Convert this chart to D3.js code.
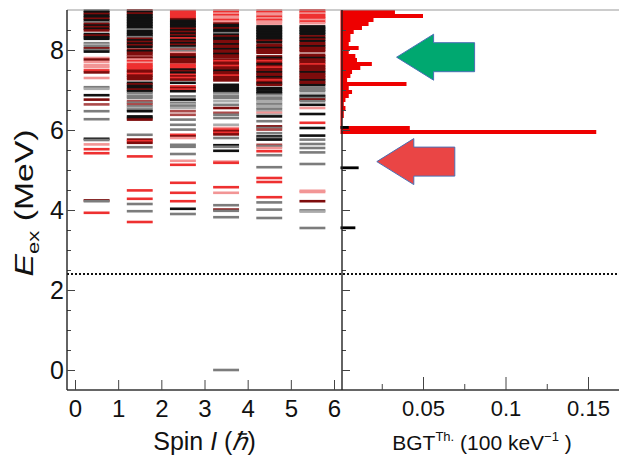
<!DOCTYPE html>
<html>
<head>
<meta charset="utf-8">
<script src="https://cdn.jsdelivr.net/npm/d3@7"></script>
<style>
  body { margin: 0; background: #fff; }
  svg { display: block; }
  text { font-family: "Liberation Sans", Arial, Helvetica, sans-serif; fill: #111; }
</style>
</head>
<body>
<svg id="chart" width="619" height="461"></svg>
<script>
// ---- Level scheme: excitation energies (MeV) per spin, with a colour class ----
// classes: K black, G grey, g light grey, D dark red, M muted red, R red, P pale red
const spins = [0, 1, 2, 3, 4, 5];

const levels0 = [
  [8.98,'K'],[8.94,'K'],[8.90,'D'],[8.86,'K'],[8.82,'K'],[8.78,'D'],[8.74,'K'],[8.69,'G'],[8.65,'D'],
  [8.61,'K'],[8.57,'D'],[8.53,'K'],[8.49,'D'],[8.40,'K'],[8.36,'D'],[8.32,'K'],[8.28,'K'],[8.17,'G'],
  [8.13,'g'],[8.09,'G'],[8.04,'D'],[8.00,'G'],[7.96,'K'],[7.80,'P'],[7.76,'D'],[7.70,'P'],[7.62,'P'],
  [7.57,'P'],[7.49,'R'],[7.44,'D'],[7.30,'P'],[7.07,'G'],[7.03,'g'],[6.87,'K'],[6.76,'D'],[6.64,'M'],
  [6.47,'G'],[6.27,'G'],[5.78,'K'],[5.75,'G'],[5.64,'P'],[5.52,'R'],[5.42,'R'],[4.24,'D'],[4.22,'G'],
  [3.93,'R']
];

const levels1 = [
  [8.99,'D'],[8.95,'K'],[8.91,'D'],[8.87,'K'],[8.83,'K'],[8.79,'K'],[8.75,'K'],[8.71,'K'],[8.67,'K'],
  [8.63,'K'],[8.59,'K'],[8.55,'K'],[8.51,'G'],[8.47,'K'],[8.43,'K'],[8.39,'K'],[8.35,'K'],[8.32,'G'],
  [8.28,'D'],[8.24,'K'],[8.20,'D'],[8.16,'K'],[8.12,'D'],[8.08,'K'],[8.01,'D'],[7.97,'K'],[7.93,'D'],
  [7.88,'D'],[7.84,'M'],[7.80,'D'],[7.76,'P'],[7.72,'R'],[7.68,'P'],[7.64,'R'],[7.60,'R'],[7.56,'R'],
  [7.52,'R'],[7.48,'D'],[7.44,'D'],[7.40,'R'],[7.36,'D'],[7.32,'D'],[7.27,'D'],[7.18,'K'],[7.14,'D'],
  [7.10,'K'],[7.05,'K'],[7.01,'D'],[6.97,'K'],[6.92,'G'],[6.87,'g'],[6.84,'G'],[6.80,'G'],[6.72,'M'],
  [6.68,'G'],[6.64,'M'],[6.59,'G'],[6.55,'g'],[6.51,'G'],[6.47,'K'],[6.34,'K'],[6.30,'K'],[6.26,'D'],
  [5.88,'G'],[5.76,'D'],[5.72,'R'],[5.68,'D'],[5.57,'G'],[5.34,'R'],[4.49,'R'],[4.28,'R'],[4.15,'G'],
  [3.97,'G'],[3.70,'R']
];

const levels2 = [
  [8.97,'R'],[8.93,'R'],[8.89,'R'],[8.85,'R'],[8.81,'R'],[8.77,'D'],[8.73,'K'],[8.69,'K'],[8.65,'K'],
  [8.61,'K'],[8.57,'K'],[8.53,'D'],[8.49,'K'],[8.45,'D'],[8.41,'K'],[8.37,'D'],[8.33,'K'],[8.29,'R'],
  [8.25,'K'],[8.21,'D'],[8.17,'K'],[8.13,'D'],[8.09,'K'],[8.05,'G'],[8.01,'M'],[7.97,'G'],[7.93,'P'],
  [7.89,'D'],[7.85,'D'],[7.81,'K'],[7.77,'D'],[7.73,'D'],[7.69,'D'],[7.63,'R'],[7.59,'R'],[7.55,'R'],
  [7.51,'K'],[7.47,'D'],[7.43,'K'],[7.38,'R'],[7.34,'D'],[7.30,'R'],[7.26,'D'],[7.18,'K'],[7.09,'R'],
  [7.05,'D'],[7.01,'R'],[6.97,'K'],[6.84,'G'],[6.76,'K'],[6.68,'G'],[6.64,'g'],[6.60,'G'],[6.55,'g'],
  [6.47,'M'],[6.38,'M'],[6.26,'G'],[6.13,'G'],[6.01,'G'],[5.88,'R'],[5.84,'D'],[5.80,'P'],[5.63,'G'],
  [5.58,'G'],[5.40,'G'],[5.23,'P'],[5.13,'R'],[4.68,'R'],[4.43,'R'],[4.22,'R'],[4.03,'K'],[3.90,'G']
];

const levels3 = [
  [8.99,'P'],[8.95,'R'],[8.91,'P'],[8.87,'R'],[8.83,'P'],[8.79,'P'],[8.75,'R'],[8.71,'P'],[8.66,'D'],
  [8.62,'K'],[8.58,'K'],[8.54,'D'],[8.50,'K'],[8.46,'K'],[8.42,'G'],[8.38,'K'],[8.34,'D'],[8.30,'K'],
  [8.26,'K'],[8.22,'D'],[8.18,'D'],[8.14,'K'],[8.10,'D'],[8.06,'D'],[8.02,'K'],[7.98,'D'],[7.94,'D'],
  [7.90,'K'],[7.86,'D'],[7.82,'D'],[7.76,'D'],[7.72,'R'],[7.68,'D'],[7.64,'D'],[7.60,'R'],[7.56,'D'],
  [7.52,'D'],[7.48,'K'],[7.44,'D'],[7.40,'D'],[7.36,'R'],[7.32,'D'],[7.28,'D'],[7.24,'D'],[7.13,'K'],
  [7.09,'K'],[7.05,'K'],[7.01,'K'],[6.97,'K'],[6.92,'G'],[6.88,'g'],[6.84,'G'],[6.80,'G'],[6.72,'g'],
  [6.63,'G'],[6.55,'D'],[6.43,'M'],[6.38,'G'],[6.30,'G'],[6.13,'g'],[6.05,'P'],[6.01,'R'],[5.97,'D'],
  [5.93,'R'],[5.89,'D'],[5.80,'G'],[5.62,'K'],[5.58,'G'],[5.48,'K'],[5.21,'P'],[5.18,'R'],[4.57,'R'],
  [4.43,'P'],[4.12,'G'],[4.01,'D'],[3.98,'G'],[3.82,'G'],[0.00,'G']
];

const levels4 = [
  [8.99,'P'],[8.95,'R'],[8.91,'P'],[8.87,'P'],[8.83,'R'],[8.79,'P'],[8.75,'R'],[8.71,'P'],[8.66,'P'],
  [8.59,'K'],[8.55,'K'],[8.51,'K'],[8.47,'K'],[8.43,'K'],[8.39,'K'],[8.35,'K'],[8.31,'K'],[8.27,'K'],
  [8.23,'D'],[8.19,'K'],[8.13,'D'],[8.09,'D'],[8.05,'K'],[8.01,'D'],[7.97,'D'],[7.93,'D'],[7.84,'D'],
  [7.80,'K'],[7.76,'D'],[7.72,'R'],[7.68,'D'],[7.64,'K'],[7.60,'D'],[7.56,'R'],[7.52,'D'],[7.48,'D'],
  [7.44,'K'],[7.40,'D'],[7.36,'D'],[7.32,'K'],[7.28,'D'],[7.24,'R'],[7.20,'D'],[7.16,'K'],[7.13,'D'],
  [7.05,'K'],[7.01,'K'],[6.96,'K'],[6.92,'K'],[6.88,'G'],[6.84,'g'],[6.80,'G'],[6.76,'G'],[6.72,'g'],
  [6.68,'g'],[6.64,'G'],[6.60,'g'],[6.56,'g'],[6.52,'G'],[6.47,'g'],[6.43,'P'],[6.38,'g'],[6.34,'K'],
  [6.22,'G'],[6.09,'D'],[6.05,'G'],[6.01,'M'],[5.92,'G'],[5.84,'K'],[5.80,'G'],[5.76,'K'],[5.63,'M'],
  [5.59,'G'],[5.55,'P'],[5.47,'R'],[5.37,'G'],[5.07,'G'],[4.80,'R'],[4.70,'R'],[4.32,'R'],[4.19,'G'],
  [4.01,'G'],[3.80,'G']
];

const levels5 = [
  [8.99,'R'],[8.95,'R'],[8.91,'P'],[8.87,'R'],[8.83,'R'],[8.79,'R'],[8.75,'P'],[8.71,'R'],[8.67,'P'],
  [8.59,'K'],[8.55,'K'],[8.51,'K'],[8.47,'K'],[8.43,'K'],[8.39,'K'],[8.34,'D'],[8.30,'K'],[8.26,'D'],
  [8.22,'K'],[8.17,'D'],[8.13,'D'],[8.09,'K'],[8.05,'D'],[8.01,'D'],[7.97,'D'],[7.88,'D'],[7.84,'D'],
  [7.80,'K'],[7.76,'D'],[7.72,'D'],[7.68,'D'],[7.64,'R'],[7.60,'D'],[7.56,'D'],[7.52,'D'],[7.48,'D'],
  [7.44,'K'],[7.40,'D'],[7.36,'D'],[7.32,'D'],[7.28,'D'],[7.24,'K'],[7.20,'D'],[7.16,'D'],[7.12,'K'],
  [7.05,'G'],[7.01,'G'],[6.97,'G'],[6.88,'G'],[6.84,'K'],[6.80,'G'],[6.76,'D'],[6.72,'G'],[6.63,'K'],
  [6.55,'P'],[6.40,'K'],[6.18,'R'],[6.05,'K'],[5.86,'K'],[5.76,'G'],[5.65,'G'],[5.55,'G'],[5.44,'G'],
  [5.15,'G'],[4.48,'P'],[4.45,'P'],[4.22,'D'],[3.99,'G'],[3.96,'g'],[3.55,'G']
];

const levelsBySpin = [levels0, levels1, levels2, levels3, levels4, levels5];

// ---- Theoretical B(GT) strength per 100 keV bin (lower bin edge in MeV) ----
const bgtBinLow = [8.9, 8.8, 8.7, 8.6, 8.5, 8.4, 8.3, 8.2, 8.1, 8.0, 7.9, 7.8, 7.7, 7.6, 7.5, 7.4,
                   7.3, 7.2, 7.1, 7.0, 6.9, 6.8, 6.7, 6.6, 6.5, 6.4, 6.3, 6.2, 6.1, 6.0, 5.9];
const bgtRed    = [0.033, 0.050, 0.020, 0.017, 0.013, 0.008, 0.006, 0.006, 0.005, 0.011, 0.005,
                   0.009, 0.010, 0.019, 0.012, 0.007, 0.006, 0.004, 0.040, 0.005, 0.007, 0.005,
                   0.003, 0.002, 0.003, 0.002, 0.002, 0.001, 0.001, 0.042, 0.155];
const bgtBlackE = [6.03, 5.02, 3.52];
const bgtBlack  = [0.005, 0.011, 0.009];

// ---- Axes ----
const energyTicks = [0, 2, 4, 6, 8];
const spinTicks = [0, 1, 2, 3, 4, 5, 6];
const bgtTicks = [0.05, 0.1, 0.15];
const bgtMinorTicks = [0.025, 0.075, 0.125];
const separationEnergy = 2.4;

// ---- Annotation arrows (tip position in data units) ----
const arrowTipE = [7.82, 5.21];
const arrowTipBgt = [0.034, 0.022];

const levelColour = { K: '#111111', G: '#7c7c7c', g: '#ababab', D: '#7e0c0c', M: '#ab4a4a', R: '#ee3030', P: '#f29595' };

const svg = d3.select('#chart');
const plotLeft = 67, plotMid = 342, plotRight = 619, plotTop = 10, plotBottom = 390;

const y = d3.scaleLinear().domain([-0.5, 9]).range([plotBottom, plotTop]);
const xSpin = d3.scaleLinear().domain([0, 6]).range([75, 334]);
const xBgt = d3.scaleLinear().domain([0, 0.15]).range([340.5, 588]);

// level lines
const colW = xSpin(0.6) - xSpin(0);
const lineH = 2.6;
const gLevels = svg.append('g');
levelsBySpin.forEach((lv, i) => {
  gLevels.selectAll(null).data(lv).enter().append('rect')
    .attr('x', xSpin(spins[i] + 0.2))
    .attr('width', colW)
    .attr('y', d => y(d[0]) - lineH / 2)
    .attr('height', lineH)
    .attr('fill', d => levelColour[d[1]]);
});

// B(GT) histogram
const gHist = svg.append('g');
gHist.selectAll(null).data(bgtBinLow).enter().append('rect')
  .attr('x', xBgt(0))
  .attr('y', d => y(d + 0.1))
  .attr('width', (d, i) => xBgt(bgtRed[i]) - xBgt(0))
  .attr('height', d => y(d) - y(d + 0.1))
  .attr('fill', '#ee0000');
gHist.selectAll(null).data(bgtBlackE).enter().append('rect')
  .attr('x', xBgt(0))
  .attr('y', d => y(d + 0.07))
  .attr('width', (d, i) => xBgt(bgtBlack[i]) - xBgt(0))
  .attr('height', d => y(d) - y(d + 0.07))
  .attr('fill', '#000');

// separation-energy line
svg.append('line')
  .attr('x1', plotLeft).attr('x2', plotRight)
  .attr('y1', y(separationEnergy)).attr('y2', y(separationEnergy))
  .attr('stroke', '#111').attr('stroke-width', 2).attr('stroke-dasharray', '2,2');

// frame
svg.append('line').attr('x1', plotLeft).attr('x2', plotRight).attr('y1', plotTop).attr('y2', plotTop)
  .attr('stroke', '#999').attr('stroke-width', 1.2);
svg.append('line').attr('x1', plotLeft).attr('x2', plotRight).attr('y1', plotBottom).attr('y2', plotBottom)
  .attr('stroke', '#333').attr('stroke-width', 1.4);

// energy axes (left panel with labels, right panel ticks only)
function energyAxis(xPos, withLabels) {
  const minor = svg.append('g').attr('transform', `translate(${xPos},0)`)
    .call(d3.axisLeft(y).tickValues(d3.range(0, 9, 0.5)).tickSize(-4).tickFormat(''));
  minor.select('.domain').remove();
  const major = svg.append('g').attr('transform', `translate(${xPos},0)`)
    .call(d3.axisLeft(y).tickValues(energyTicks).tickSize(-8).tickPadding(3)
      .tickFormat(withLabels ? d3.format('d') : ''));
  major.select('.domain').attr('d', `M0,${plotTop}V${plotBottom}`).attr('stroke', '#222').attr('stroke-width', 1.4);
  [minor, major].forEach(g => g.selectAll('.tick line').attr('stroke', '#444'));
  major.selectAll('text').style('font-size', '25px').attr('fill', '#111');
}
energyAxis(plotLeft, true);
energyAxis(plotMid, false);

// spin axis
const gSpin = svg.append('g').attr('transform', `translate(0,${plotBottom})`)
  .call(d3.axisBottom(xSpin).tickValues(spinTicks).tickSize(-10).tickPadding(10).tickFormat(d3.format('d')));
gSpin.select('.domain').remove();
gSpin.selectAll('.tick line').attr('stroke', '#444');
gSpin.selectAll('text').style('font-size', '24px').attr('fill', '#111');

// B(GT) axis
const gBgtMinor = svg.append('g').attr('transform', `translate(0,${plotBottom})`)
  .call(d3.axisBottom(xBgt).tickValues(bgtMinorTicks).tickSize(-6).tickFormat(''));
gBgtMinor.select('.domain').remove();
const gBgt = svg.append('g').attr('transform', `translate(0,${plotBottom})`)
  .call(d3.axisBottom(xBgt).tickValues(bgtTicks).tickSize(-13).tickPadding(10).tickFormat(d => String(d)));
gBgt.select('.domain').remove();
svg.selectAll('.tick line').attr('stroke', '#444');
gBgt.selectAll('text').style('font-size', '22px').attr('fill', '#111');

// axis titles
const yTitle = svg.append('text')
  .attr('transform', `translate(33,203) rotate(-90) scale(1.3,1)`)
  .attr('text-anchor', 'middle').style('font-size', '26px');
yTitle.append('tspan').text('E').style('font-style', 'italic');
yTitle.append('tspan').text('ex').style('font-size', '17px').attr('dy', 6);
yTitle.append('tspan').text(' (MeV)').attr('dy', -6);

const xTitle = svg.append('text').attr('x', xSpin(3)).attr('y', 450)
  .attr('text-anchor', 'middle').style('font-size', '25px');
xTitle.append('tspan').text('Spin ');
xTitle.append('tspan').text('I').style('font-style', 'italic');
xTitle.append('tspan').text(' (');
xTitle.append('tspan').text('ℏ').style('font-style', 'italic');
xTitle.append('tspan').text(')');

const bTitle = svg.append('text').attr('x', 482).attr('y', 450)
  .attr('text-anchor', 'middle').style('font-size', '21px');
bTitle.append('tspan').text('BGT');
bTitle.append('tspan').text('Th.').style('font-size', '13px').attr('dy', -9);
bTitle.append('tspan').text(' (100 keV').attr('dy', 9);
bTitle.append('tspan').text('−1').style('font-size', '13px').attr('dy', -9);
bTitle.append('tspan').text(' )').attr('dy', 9);

// annotation arrows pointing at the strength regions
const arrowPath = 'M0,0 L37,-23 L37,-14.5 L78,-14.5 L78,14.5 L37,14.5 L37,23 Z';
const arrowFill = ['#00a870', '#ea4545'];
arrowTipE.forEach((e, i) => {
  svg.append('path')
    .attr('d', arrowPath)
    .attr('transform', `translate(${xBgt(arrowTipBgt[i])},${y(e)})`)
    .attr('fill', arrowFill[i])
    .attr('stroke', '#4a6fb5').attr('stroke-width', 1);
});
</script>
</body>
</html>
